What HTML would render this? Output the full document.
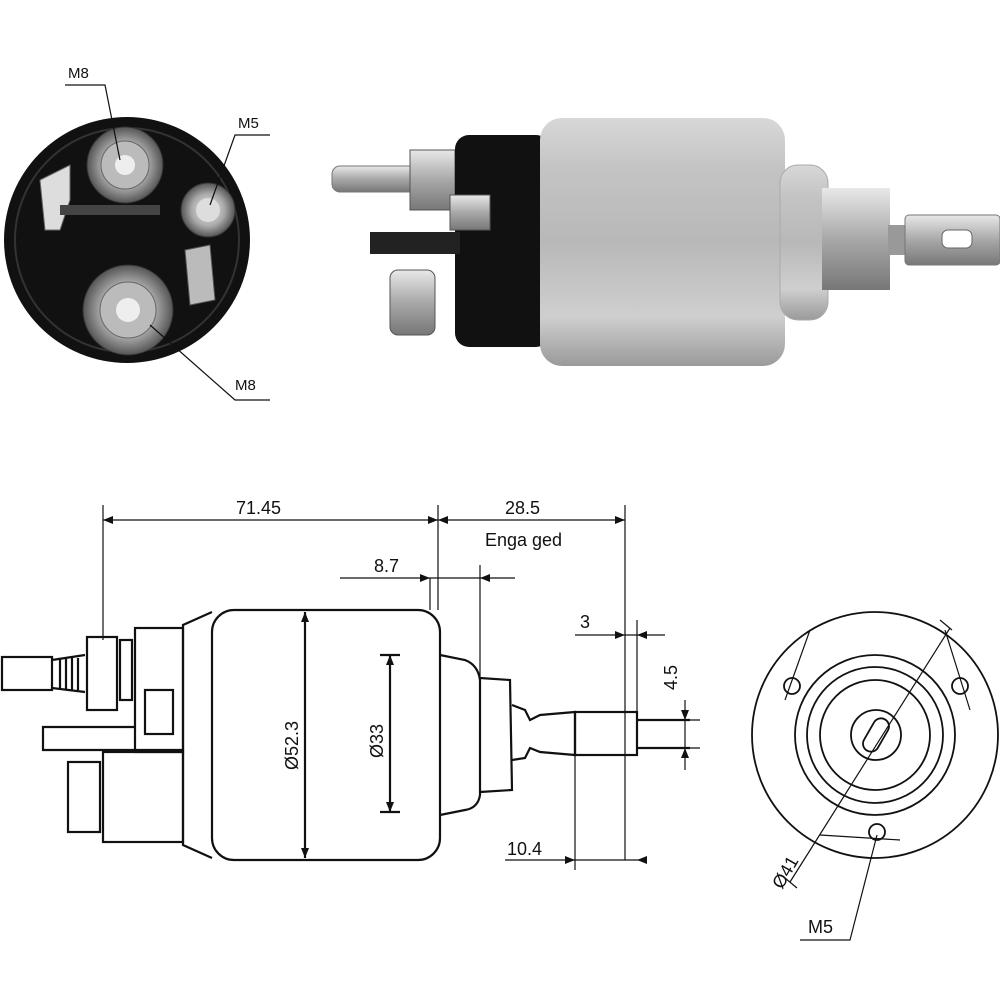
<!DOCTYPE html>
<html><head><meta charset="utf-8"><style>
html,body{margin:0;padding:0;background:#fff}
svg{display:block}
text{font-family:"Liberation Sans",sans-serif;fill:#111}
</style></head><body>
<svg width="1000" height="1000" viewBox="0 0 1000 1000" xmlns="http://www.w3.org/2000/svg">
<defs>
<linearGradient id="sil" x1="0" y1="0" x2="0" y2="1">
<stop offset="0" stop-color="#d8d8d8"/><stop offset="0.2" stop-color="#c4c4c4"/><stop offset="0.5" stop-color="#b8b8b8"/><stop offset="0.8" stop-color="#cfcfcf"/><stop offset="1" stop-color="#9a9a9a"/>
</linearGradient>
<linearGradient id="sil2" x1="0" y1="0" x2="0" y2="1">
<stop offset="0" stop-color="#e8e8e8"/><stop offset="0.5" stop-color="#a8a8a8"/><stop offset="1" stop-color="#777"/>
</linearGradient>
<radialGradient id="nut"><stop offset="0" stop-color="#eee"/><stop offset="0.6" stop-color="#aaa"/><stop offset="1" stop-color="#555"/></radialGradient>
</defs>

<!-- Top-left end view -->
<circle cx="127" cy="240" r="123" fill="#111"/>
<circle cx="127" cy="240" r="112" fill="none" stroke="#333" stroke-width="2"/>
<path d="M40 180 L70 165 L70 200 L60 230 L45 230 Z" fill="#ddd" stroke="#666"/>
<path d="M60 205 L160 205 L160 215 L60 215Z" fill="#444"/>
<path d="M185 250 L210 245 L215 300 L190 305Z" fill="#bbb" stroke="#555"/>
<circle cx="125" cy="165" r="38" fill="url(#nut)" stroke="#333"/>
<circle cx="125" cy="165" r="24" fill="#bbb" stroke="#666"/>
<circle cx="125" cy="165" r="10" fill="#eee"/>
<circle cx="208" cy="210" r="27" fill="url(#nut)" stroke="#333"/>
<circle cx="208" cy="210" r="12" fill="#ddd"/>
<circle cx="128" cy="310" r="45" fill="url(#nut)" stroke="#333"/>
<circle cx="128" cy="310" r="28" fill="#bbb" stroke="#666"/>
<circle cx="128" cy="310" r="12" fill="#eee"/>
<g stroke="#111" fill="none" stroke-width="1.2">
<polyline points="65,85 105,85 120,160"/>
<polyline points="270,135 235,135 210,205"/>
<polyline points="270,400 235,400 150,325"/>
</g>
<text x="68" y="78" font-size="15">M8</text>
<text x="238" y="128" font-size="15">M5</text>
<text x="235" y="390" font-size="15">M8</text>

<!-- Top-right photo -->
<rect x="332" y="166" width="85" height="26" rx="8" fill="url(#sil2)" stroke="#777"/>
<rect x="410" y="150" width="45" height="60" fill="url(#sil2)" stroke="#555"/>
<rect x="455" y="135" width="95" height="212" rx="14" fill="#111"/>
<rect x="370" y="232" width="90" height="22" fill="#222"/>
<rect x="450" y="195" width="40" height="35" fill="url(#sil2)" stroke="#555"/>
<rect x="390" y="270" width="45" height="65" rx="8" fill="url(#sil2)" stroke="#555"/>
<rect x="540" y="118" width="245" height="248" rx="22" fill="url(#sil)"/>
<rect x="780" y="165" width="48" height="155" rx="18" fill="url(#sil)" stroke="#aaa"/>
<rect x="822" y="188" width="68" height="102" fill="url(#sil2)"/>
<rect x="888" y="225" width="20" height="30" fill="#999"/>
<rect x="905" y="215" width="95" height="50" rx="4" fill="url(#sil2)" stroke="#777"/>
<rect x="942" y="230" width="30" height="18" rx="6" fill="#fff" stroke="#666"/>

<!-- Bottom side drawing -->
<g stroke="#111" fill="none" stroke-width="2.2">
<rect x="212" y="610" width="228" height="250" rx="22" fill="#fff"/>
<path d="M212 612 L183 625 L183 845 L212 858"/>
<rect x="135" y="628" width="48" height="124"/>
<rect x="103" y="752" width="80" height="90"/>
<rect x="68" y="762" width="32" height="70"/>
<rect x="87" y="637" width="30" height="73"/>
<rect x="120" y="640" width="12" height="60"/>
<rect x="145" y="690" width="28" height="44"/>
<rect x="2" y="657" width="50" height="33"/>
<path d="M52 660 L85 655 M52 688 L85 692"/>
<path d="M60 658 V690 M66 658 V690 M72 658 V690 M78 658 V690"/>
<path d="M135 727 L43 727 L43 750 L183 750"/>
<path d="M440 655 L465 660 Q478 665 480 680 L480 795 Q478 808 465 810 L440 815"/>
<path d="M480 678 L510 680 L512 790 L480 792"/>
<path d="M512 705 L525 710 L530 720 L540 715 L575 712 L575 755 L540 752 L530 748 L525 758 L512 760"/>
<rect x="575" y="712" width="62" height="43"/>
<path d="M637 720 H690 M637 748 H690"/>
<path d="M390 655 V812 M380 655 H400 M380 812 H400"/>
<path d="M305 612 V858"/>
</g>
<g stroke="#111" fill="none" stroke-width="1.2">
<path d="M103 520 H438 M438 520 H625 M103 505 V640 M438 505 V610 M625 505 V860"/>
<path d="M340 578 H515 M480 565 V680 M430 578 V610"/>
<path d="M575 635 H665 M637 620 V720"/>
<path d="M685 700 V770 M680 720 H700 M680 748 H700"/>
<path d="M505 860 H640 M575 755 V870"/>
</g>
<g fill="#111">
<path d="M103 520 l10 -4 v8z M438 520 l-10 -4 v8z M438 520 l10 -4 v8z M625 520 l-10 -4 v8z"/>
<path d="M430 578 l-10 -4 v8z M480 578 l10 -4 v8z"/>
<path d="M637 635 l10 -4 v8z M625 635 l-10 -4 v8z"/>
<path d="M575 860 l-10 -4 v8z M637 860 l10 -4 v8z"/>
<path d="M685 720 l-4 -10 h8z M685 748 l-4 10 h8z"/>
<path d="M305 612 l-4 10 h8z M305 858 l-4 -10 h8z M390 655 l-4 10 h8z M390 812 l-4 -10 h8z"/>
</g>
<text x="236" y="514" font-size="18">71.45</text>
<text x="505" y="514" font-size="18">28.5</text>
<text x="485" y="546" font-size="18">Enga ged</text>
<text x="374" y="572" font-size="18">8.7</text>
<text x="580" y="628" font-size="18">3</text>
<text x="507" y="855" font-size="18">10.4</text>
<text font-size="18" transform="translate(677,690) rotate(-90)">4.5</text>
<text font-size="18" transform="translate(298,770) rotate(-90)">Ø52.3</text>
<text font-size="18" transform="translate(383,758) rotate(-90)">Ø33</text>

<!-- Bottom-right end view -->
<g stroke="#111" fill="none" stroke-width="1.8">
<circle cx="875" cy="735" r="123"/>
<circle cx="875" cy="735" r="80"/>
<circle cx="875" cy="735" r="68"/>
<circle cx="875" cy="735" r="55"/>
<circle cx="876" cy="735" r="25"/>
<rect x="858" y="727" width="36" height="16" rx="8" transform="rotate(-60 876 735)"/>
<circle cx="792" cy="686" r="8"/>
<circle cx="960" cy="686" r="8"/>
<circle cx="877" cy="832" r="8"/>
</g>
<g stroke="#111" fill="none" stroke-width="1.2">
<path d="M950 628 L790 882 M940 620 L952 630 M785 878 L797 888"/>
<path d="M810 630 L785 700 M945 630 L970 710 M820 835 L900 840"/>
<polyline points="800,940 850,940 877,835"/>
</g>
<text font-size="18" transform="translate(782,890) rotate(-60)">Ø41</text>
<text x="808" y="933" font-size="18">M5</text>
</svg>
</body></html>
